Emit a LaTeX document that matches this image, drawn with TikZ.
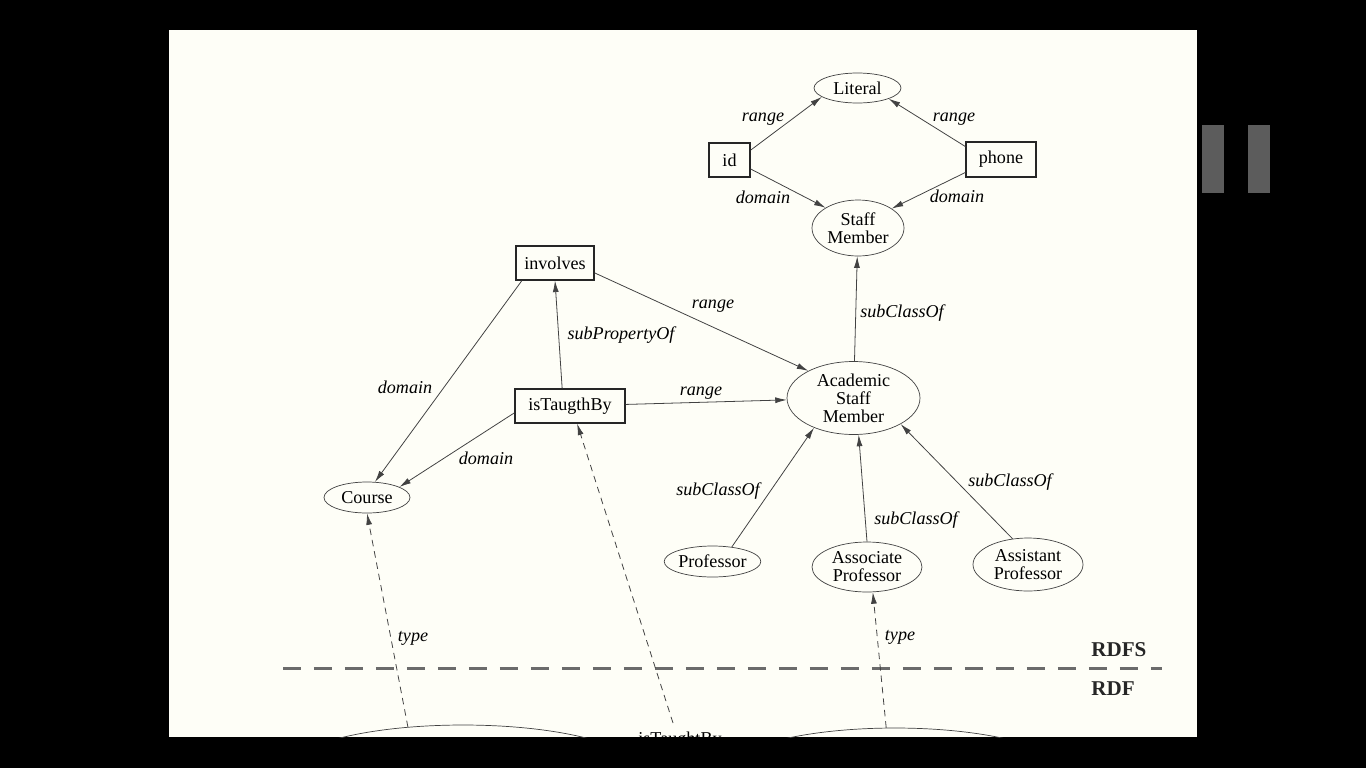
\documentclass[tikz,border=0pt]{standalone}
\usepackage{fontspec}
\setmainfont{Liberation Serif}
\usetikzlibrary{arrows.meta,shapes.geometric,calc}
\definecolor{slideBg}{HTML}{FEFEF7}
\definecolor{edgeDraw}{HTML}{424242}
\definecolor{boxDraw}{HTML}{262626}
\definecolor{layerDraw}{HTML}{6B6B6B}
\definecolor{pauseFill}{HTML}{5C5C5C}
\tikzset{
  font=\fontsize{10.3}{10.2}\selectfont,
  cls/.style  ={ellipse, draw=edgeDraw, align=center, inner sep=0pt, line width=0.4pt},
  prop/.style ={rectangle, draw=boxDraw, inner sep=1pt, line width=0.7pt},
  arr/.style  ={-{Latex[length=2.3mm,width=1.2mm]}, draw=edgeDraw, line width=0.45pt},
  tarr/.style ={arr, dash pattern=on 1.3mm off 1mm},
  lbl/.style  ={font=\fontsize{10.3}{12}\selectfont\itshape, inner sep=1pt},
  layer/.style={font=\fontsize{12}{14}\selectfont\bfseries, text=black!85, anchor=west, inner sep=0pt},
}

\begin{document}
\begin{tikzpicture}[x=0.02cm, y=-0.02cm]
  \useasboundingbox (0,0) rectangle (1366,768);
  \fill[black] (0,0) rectangle (1366,768);
  \fill[slideBg] (169,30) rectangle (1197,737);
  % pause sign of the player
  \fill[pauseFill] (1202,125) rectangle (1224,193);
  \fill[pauseFill] (1248,125) rectangle (1270,193);

  \begin{scope}
  \clip (169,30) rectangle (1197,737);

  % classes
  \node[cls, minimum width=1.74cm, minimum height=0.60cm] (literal) at (857.5,88)  {Literal};
  \node[cls, minimum width=1.84cm, minimum height=1.12cm] (staff)   at (858,228)   {Staff\\Member};
  \node[cls, minimum width=2.66cm, minimum height=1.46cm] (asm)     at (853.5,398) {Academic\\Staff\\Member};
  \node[cls, minimum width=1.72cm, minimum height=0.62cm] (course)  at (367,497.5) {Course};
  \node[cls, minimum width=1.90cm, minimum height=0.62cm] (prof)    at (712.5,561.5) {Professor};
  \node[cls, minimum width=2.20cm, minimum height=1.00cm] (assoc)   at (867,567)   {Associate\\Professor};
  \node[cls, minimum width=2.20cm, minimum height=1.06cm] (asst)    at (1028,564.5) {Assistant\\Professor};

  % properties
  \node[prop, minimum width=0.82cm, minimum height=0.68cm] (id)       at (729.5,160) {id};
  \node[prop, minimum width=1.40cm, minimum height=0.70cm] (phone)    at (1001,159.5) {phone};
  \node[prop, minimum width=1.56cm, minimum height=0.68cm] (involves) at (555,263)   {involves};
  \node[prop, minimum width=2.20cm, minimum height=0.68cm] (ist)      at (570,406)   {isTaugthBy};

  % RDF layer, cut off by the slide
  \node[cls, minimum width=7.0cm, minimum height=1.8cm] (discrete) at (463,770) {};
  \node[cls, minimum width=6.8cm, minimum height=1.8cm] (lecturer) at (895,773) {};
  \node[anchor=north, inner sep=0pt] (istb) at (680,732) {isTaughtBy};

  % id and phone
  \draw[arr] (id.25)     -- (literal.194);
  \draw[arr] (phone.160) -- (literal.341);
  \draw[arr] (id.337)    -- (staff.148);
  \draw[arr] (phone.200) -- (staff.30);
  \node[lbl] (rngId)  at (763,119) {range};
  \node[lbl] (rngPh)  at (954,119) {range};
  \node[lbl] (domId)  at (763,197) {domain};
  \node[lbl] (domPh)  at (957,196) {domain};

  % involves and isTaugthBy
  \draw[arr] (asm) -- (staff);
  \draw[arr] (involves.346) -- (asm.149);
  \draw[arr] (ist.114) -- (involves.south);
  \draw[arr] (involves.208) -- (course.63);
  \draw[arr] (ist.187) -- (course.18);
  \draw[arr] (ist) -- (asm);
  \node[lbl] (subCS)  at (902,313) {subClassOf};
  \node[lbl] (rngInv) at (713,306) {range};
  \node[lbl] (subPr)  at (621,335) {subPropertyOf};
  \node[lbl] (domInv) at (405,387) {domain};
  \node[lbl] (rngIst) at (701,393) {range};
  \node[lbl] (domIst) at (486,458) {domain};

  % kinds of academic staff
  \draw[arr] (prof.37)    -- (asm.217);
  \draw[arr] (assoc.north) -- (asm.278);
  \draw[arr] (asst.121)   -- (asm.331);
  \node[lbl] (subPf)  at (718,491)  {subClassOf};
  \node[lbl] (subAc)  at (916,520)  {subClassOf};
  \node[lbl] (subAs)  at (1010,482) {subClassOf};

  % layers
  \draw[layerDraw, line width=1.7pt, dash pattern=on 0.36cm off 0.26cm] (283,668) -- (1162,668);
  \node[layer] (rdfs) at (1091,650) {RDFS};
  \node[layer] (rdf)  at (1091,689) {RDF};

  % type links from the RDF layer
  \draw[tarr] (discrete.142) -- (course.south);
  \draw[tarr] ([xshift=-0.14cm,yshift=0.18cm]istb.north) -- (ist.292);
  \draw[tarr] (lecturer.101) -- (assoc.283);
  \node[lbl] (typL) at (413,638) {type};
  \node[lbl] (typR) at (900,637) {type};
  \end{scope}
\end{tikzpicture}
\end{document}
